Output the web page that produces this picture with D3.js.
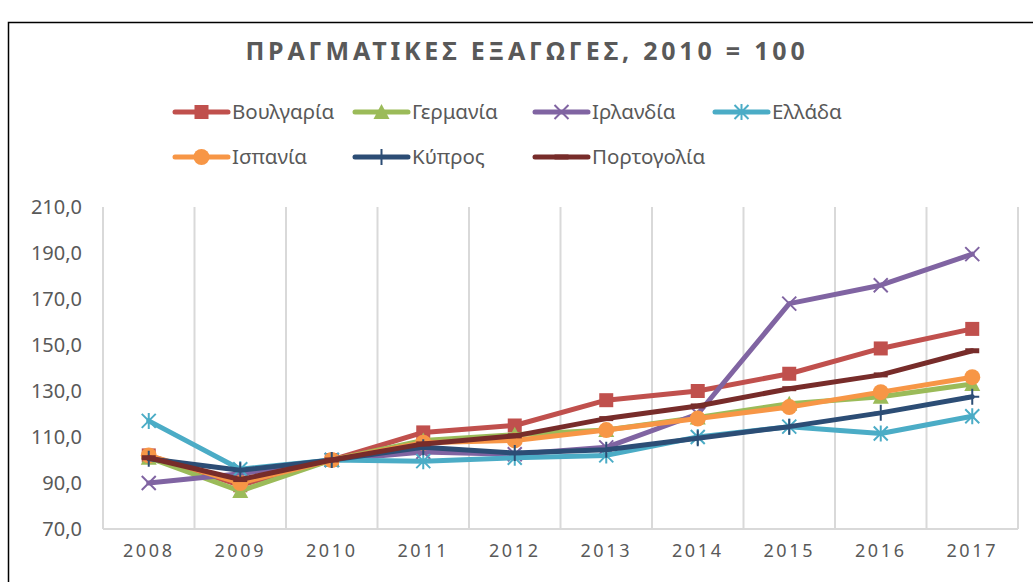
<!DOCTYPE html>
<html>
<head>
<meta charset="utf-8">
<script src="https://cdn.jsdelivr.net/npm/d3@7"></script>
<style>
  html, body { margin: 0; padding: 0; background: #fff; }
  svg { display: block; }
  text { font-family: "Noto Sans", "Open Sans", sans-serif; fill: #595959; }
</style>
</head>
<body>
<svg id="chart" width="1033" height="582"></svg>
<script>
// Real exports index, 2010 = 100
const years = ["2008", "2009", "2010", "2011", "2012", "2013", "2014", "2015", "2016", "2017"];
const bulgaria = [102, 89, 100, 112, 115, 126, 130, 137.5, 148.5, 157];
const germany  = [101, 86.5, 100, 108.5, 111, 113, 118.5, 124.5, 127.5, 133];
const ireland  = [90, 94, 100, 103.5, 102.5, 105.5, 120, 168, 176, 189.5];
const greece   = [117, 96, 100, 99.5, 101, 102, 110, 114.5, 111.5, 119];
const spain    = [102, 90, 100, 107.5, 108.5, 113, 118, 123, 129.5, 136];
const cyprus   = [100.5, 95.5, 100, 105.5, 103, 104.5, 109.5, 114.5, 120.5, 127.5];
const portugal = [101, 91.5, 100, 107, 110.5, 118, 123.5, 131, 137, 147.5];
const yTicks = [70, 90, 110, 130, 150, 170, 190, 210];
const titleText = "ΠΡΑΓΜΑΤΙΚΕΣ ΕΞΑΓΩΓΕΣ, 2010 = 100";

const series = [
  { name: "Βουλγαρία",  values: bulgaria, color: "#C0504D", marker: "square" },
  { name: "Γερμανία",   values: germany,  color: "#9BBB59", marker: "triangle" },
  { name: "Ιρλανδία",   values: ireland,  color: "#8064A2", marker: "x" },
  { name: "Ελλάδα",     values: greece,   color: "#4BACC6", marker: "star" },
  { name: "Ισπανία",    values: spain,    color: "#F79646", marker: "circle" },
  { name: "Κύπρος",     values: cyprus,   color: "#2C4D75", marker: "plus" },
  { name: "Πορτογολία", values: portugal, color: "#772C2A", marker: "dash" }
];

const svg = d3.select("#chart");

// outer frame
svg.append("rect")
  .attr("x", 8.5).attr("y", 22.5)
  .attr("width", 1040).attr("height", 600)
  .attr("fill", "none").attr("stroke", "#000").attr("stroke-width", 1.5);

const plot = { left: 103, right: 1018, top: 207, bottom: 529 };

const x = d3.scaleBand().domain(years).range([plot.left, plot.right]).padding(0);
const y = d3.scaleLinear().domain([70, 210]).range([plot.bottom, plot.top]);

// vertical gridlines on category boundaries
const bounds = years.map(d => x(d)).concat([x.range()[1]]);
svg.append("g").selectAll("line").data(bounds).join("line")
  .attr("x1", d => d).attr("x2", d => d)
  .attr("y1", plot.top).attr("y2", plot.bottom)
  .attr("stroke", "#d9d9d9").attr("stroke-width", 2);

// horizontal axis line
svg.append("line")
  .attr("x1", plot.left).attr("x2", plot.right)
  .attr("y1", plot.bottom).attr("y2", plot.bottom)
  .attr("stroke", "#d9d9d9").attr("stroke-width", 2);

// y axis labels
const yAxis = d3.axisLeft(y).tickValues(yTicks).tickSize(0).tickPadding(0)
  .tickFormat(d => d3.format(".1f")(d).replace(".", ","));
const gy = svg.append("g").attr("transform", "translate(82,0)").call(yAxis);
gy.select(".domain").remove();
gy.selectAll("text").attr("font-size", 20).attr("fill", "#595959")
  .attr("font-family", "'Noto Sans', sans-serif");

// x axis labels
const xAxis = d3.axisBottom(x).tickSize(0).tickPadding(0);
const gx = svg.append("g").attr("transform", "translate(0,544)").call(xAxis);
gx.select(".domain").remove();
gx.selectAll("text").attr("font-size", 18).attr("fill", "#595959")
  .attr("letter-spacing", "2.6px")
  .attr("font-family", "'Noto Sans', sans-serif");

// title
svg.append("text")
  .attr("x", 527).attr("y", 60)
  .attr("text-anchor", "middle")
  .attr("font-size", 25).attr("font-weight", "bold")
  .attr("letter-spacing", "3.8px")
  .text(titleText);

// marker drawing
function drawMarker(g, type, color, cx, cy) {
  const s = 7;
  if (type === "square") {
    g.append("rect").attr("x", cx - s).attr("y", cy - s)
      .attr("width", 2 * s).attr("height", 2 * s).attr("fill", color);
  } else if (type === "triangle") {
    g.append("path")
      .attr("d", `M${cx},${cy - s - 1}L${cx + s + 1},${cy + s}L${cx - s - 1},${cy + s}Z`)
      .attr("fill", color);
  } else if (type === "circle") {
    g.append("circle").attr("cx", cx).attr("cy", cy).attr("r", 8).attr("fill", color);
  } else if (type === "x") {
    g.append("path")
      .attr("d", `M${cx - s},${cy - s}L${cx + s},${cy + s}M${cx - s},${cy + s}L${cx + s},${cy - s}`)
      .attr("stroke", color).attr("stroke-width", 2).attr("fill", "none");
  } else if (type === "star") {
    g.append("path")
      .attr("d", `M${cx - s},${cy - s}L${cx + s},${cy + s}M${cx - s},${cy + s}L${cx + s},${cy - s}M${cx},${cy - s - 1}L${cx},${cy + s + 1}`)
      .attr("stroke", color).attr("stroke-width", 2).attr("fill", "none");
  } else if (type === "plus") {
    g.append("path")
      .attr("d", `M${cx - s},${cy}L${cx + s},${cy}M${cx},${cy - s - 1}L${cx},${cy + s + 1}`)
      .attr("stroke", color).attr("stroke-width", 2).attr("fill", "none");
  } else if (type === "dash") {
    g.append("path")
      .attr("d", `M${cx - 7},${cy}L${cx + 7},${cy}`)
      .attr("stroke", color).attr("stroke-width", 5).attr("fill", "none");
  }
}

// series lines with markers
const line = d3.line()
  .x((d, i) => x(years[i]) + x.bandwidth() / 2)
  .y(d => y(d));

series.forEach(s => {
  const g = svg.append("g");
  g.append("path").datum(s.values)
    .attr("d", line)
    .attr("fill", "none").attr("stroke", s.color)
    .attr("stroke-width", 5).attr("stroke-linejoin", "round").attr("stroke-linecap", "round");
  s.values.forEach((v, i) => {
    drawMarker(g, s.marker, s.color, x(years[i]) + x.bandwidth() / 2, y(v));
  });
});

// legend
const legend = svg.append("g");
series.forEach((s, i) => {
  const col = i % 4, row = Math.floor(i / 4);
  const lx = 175 + col * 180, ly = 112 + row * 45;
  const g = legend.append("g");
  g.append("line").attr("x1", lx).attr("x2", lx + 53)
    .attr("y1", ly).attr("y2", ly)
    .attr("stroke", s.color).attr("stroke-width", 5).attr("stroke-linecap", "round");
  drawMarker(g, s.marker, s.color, lx + 26.5, ly);
  g.append("text").attr("x", lx + 57).attr("y", ly + 7)
    .attr("font-size", 20.5).text(s.name);
});
</script>
</body>
</html>
